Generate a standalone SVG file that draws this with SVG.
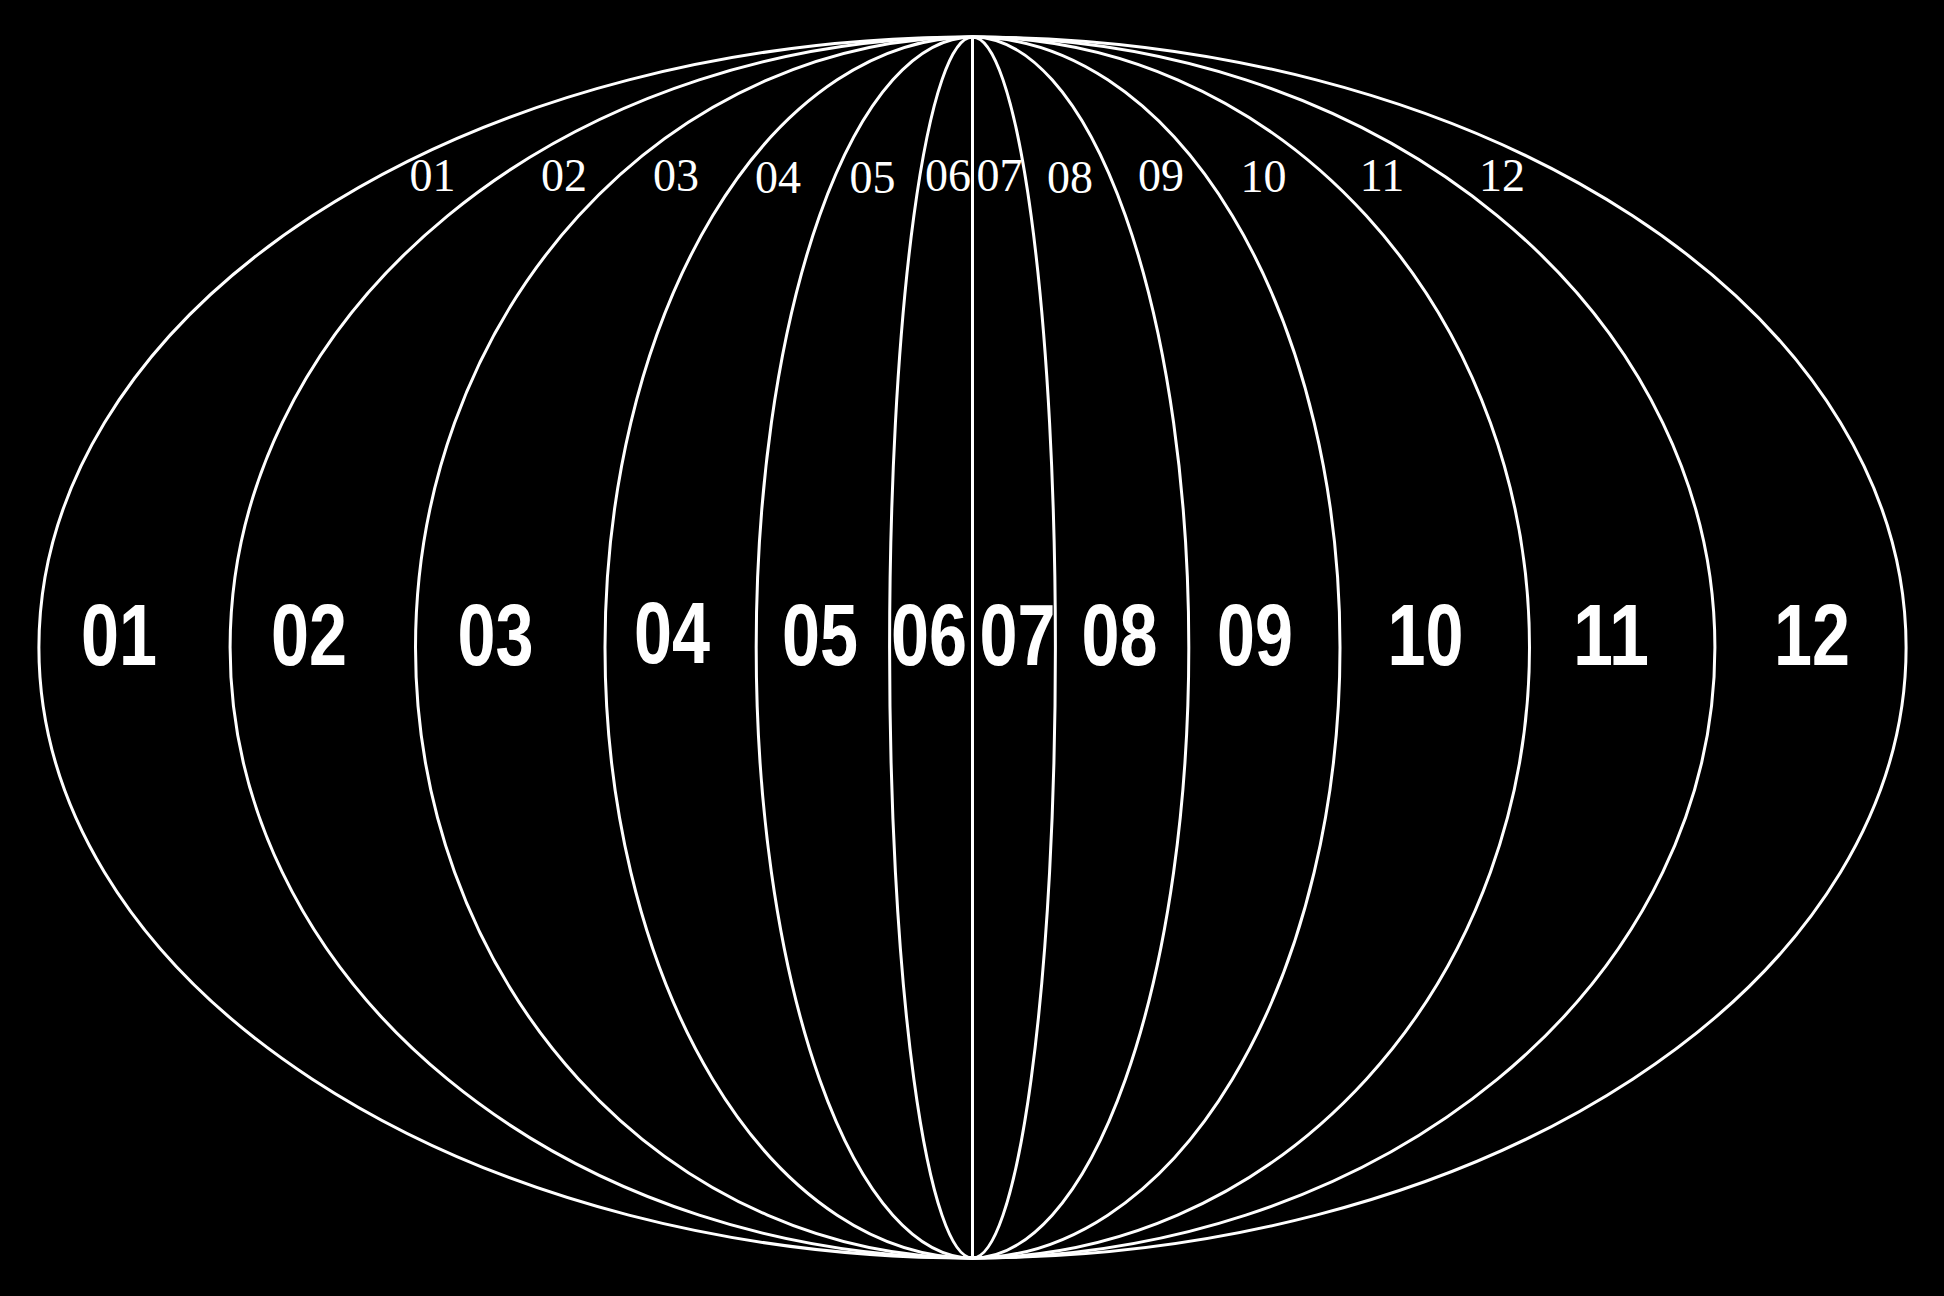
<svg xmlns="http://www.w3.org/2000/svg" width="1944" height="1296" viewBox="0 0 1944 1296">
<style>
.m{fill:none;stroke:#fff;stroke-width:3}
.big{font-family:"Liberation Sans",Arial,sans-serif;font-weight:bold;font-size:88px;fill:#fff;text-anchor:middle}
.sm{font-family:"Liberation Serif","Times New Roman",serif;font-size:46px;fill:#fff;text-anchor:middle}
</style>
<rect width="1944" height="1296" fill="#000"/>
<g id="meridians">
<ellipse class="m" cx="972.5" cy="647.5" rx="933.6" ry="610.5" stroke-width="3.4"/>
<ellipse class="m" cx="972.5" cy="647.5" rx="742.4" ry="610.5"/>
<ellipse class="m" cx="972.5" cy="647.5" rx="557" ry="610.5"/>
<ellipse class="m" cx="972.5" cy="647.5" rx="367.5" ry="610.5"/>
<ellipse class="m" cx="972.5" cy="647.5" rx="216.3" ry="610.5"/>
<ellipse class="m" cx="972.5" cy="647.5" rx="82.9" ry="610.5"/>
<line class="m" x1="972.5" y1="37" x2="972.5" y2="1258" stroke-width="2.4"/>
</g>
<g id="big-labels">
<text class="big" x="119" y="665" textLength="76" lengthAdjust="spacingAndGlyphs">01</text>
<text class="big" x="309" y="665" textLength="76" lengthAdjust="spacingAndGlyphs">02</text>
<text class="big" x="495.5" y="665" textLength="76" lengthAdjust="spacingAndGlyphs">03</text>
<text class="big" x="672" y="663" textLength="76" lengthAdjust="spacingAndGlyphs">04</text>
<text class="big" x="820" y="665" textLength="76" lengthAdjust="spacingAndGlyphs">05</text>
<text class="big" x="929" y="665" textLength="76" lengthAdjust="spacingAndGlyphs">06</text>
<text class="big" x="1017.5" y="665" textLength="76" lengthAdjust="spacingAndGlyphs">07</text>
<text class="big" x="1119.5" y="665" textLength="76" lengthAdjust="spacingAndGlyphs">08</text>
<text class="big" x="1255" y="665" textLength="76" lengthAdjust="spacingAndGlyphs">09</text>
<text class="big" x="1425.5" y="665" textLength="76" lengthAdjust="spacingAndGlyphs">10</text>
<text class="big" x="1611" y="665" textLength="76" lengthAdjust="spacingAndGlyphs">11</text>
<text class="big" x="1812" y="665" textLength="76" lengthAdjust="spacingAndGlyphs">12</text>
</g>
<g id="small-labels">
<text class="sm" x="432.5" y="191">01</text>
<text class="sm" x="564" y="191">02</text>
<text class="sm" x="676" y="191">03</text>
<text class="sm" x="778" y="193">04</text>
<text class="sm" x="872.5" y="193">05</text>
<text class="sm" x="948" y="191">06</text>
<text class="sm" x="999.5" y="191">07</text>
<text class="sm" x="1070" y="193">08</text>
<text class="sm" x="1161" y="191">09</text>
<text class="sm" x="1263.5" y="192">10</text>
<text class="sm" x="1382" y="191">11</text>
<text class="sm" x="1502" y="191">12</text>
</g>
</svg>
